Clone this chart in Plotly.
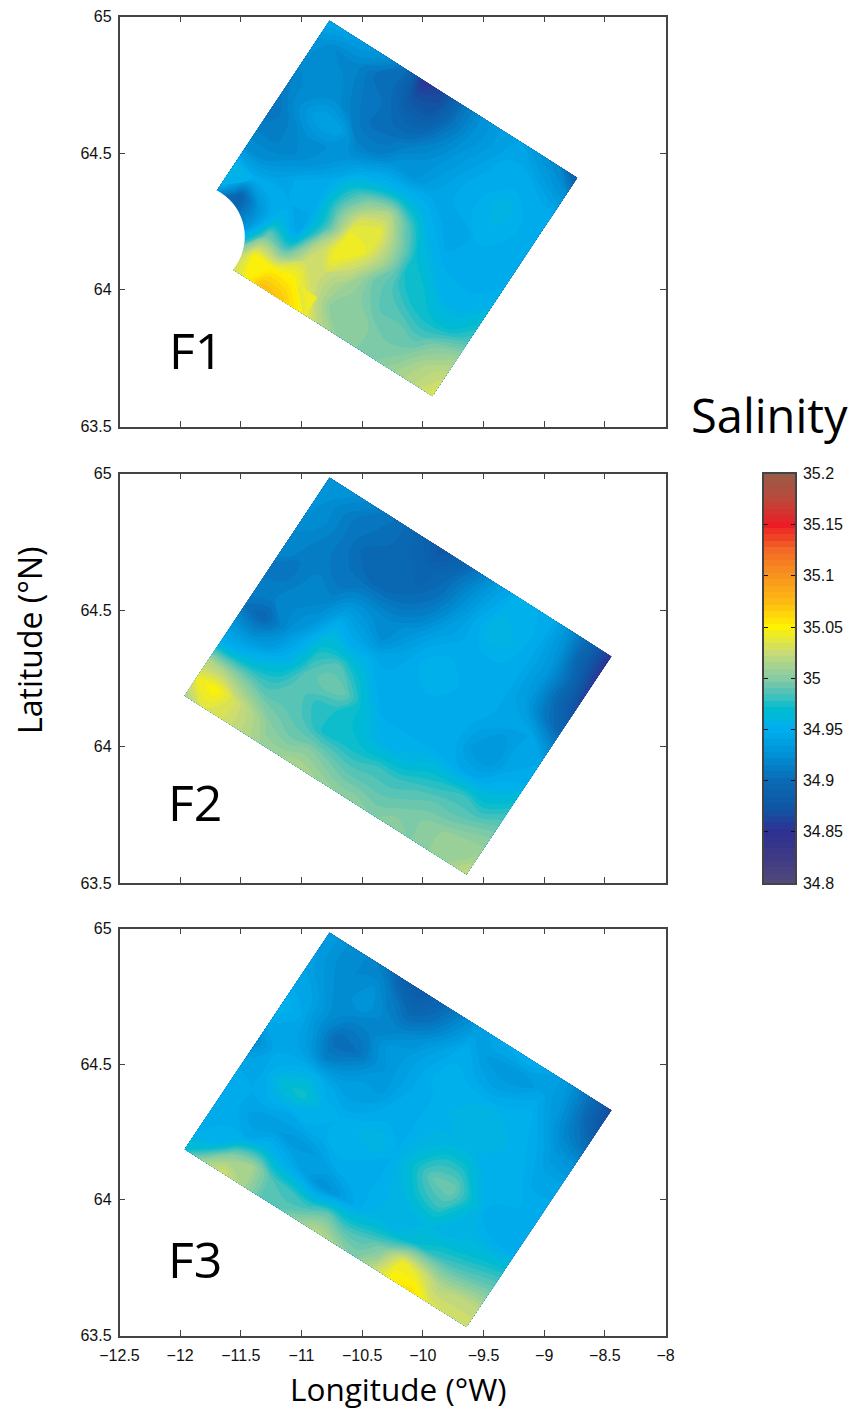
import numpy as np
import plotly.graph_objects as go

W, H = 862, 1410

lon_ticks = [-12.5, -12, -11.5, -11, -10.5, -10, -9.5, -9, -8.5, -8]
lat_ticks = [63.5, 64, 64.5, 65]
cb_ticks = [34.8, 34.85, 34.9, 34.95, 35, 35.05, 35.1, 35.15, 35.2]
cb_labels = ["34.8", "34.85", "34.9", "34.95", "35", "35.05", "35.1", "35.15", "35.2"]

# Salinity, rows run from the north corner to the west corner,
# columns run from the north corner to the east corner.
F1_values = [
 [34.945,34.94,34.935,34.925,34.905,34.85,34.865,34.905,34.925,34.935,34.94,34.93,34.92,34.885],
 [34.93,34.92,34.92,34.905,34.90,34.875,34.875,34.905,34.925,34.935,34.945,34.945,34.935,34.925],
 [34.925,34.925,34.92,34.91,34.905,34.895,34.895,34.915,34.93,34.94,34.95,34.95,34.95,34.945],
 [34.915,34.925,34.925,34.915,34.905,34.905,34.915,34.925,34.935,34.945,34.95,34.96,34.95,34.95],
 [34.91,34.925,34.94,34.94,34.915,34.915,34.93,34.93,34.94,34.945,34.95,34.955,34.95,34.95],
 [34.905,34.915,34.925,34.925,34.93,34.945,34.955,34.96,34.955,34.945,34.94,34.95,34.95,34.95],
 [34.915,34.915,34.92,34.93,34.945,34.975,35.0,35.015,34.985,34.955,34.945,34.95,34.95,34.95],
 [34.925,34.925,34.935,34.95,34.95,34.99,35.03,35.04,35.005,34.97,34.955,34.95,34.95,34.955],
 [34.96,34.95,34.95,34.945,34.945,34.985,35.045,35.04,35.01,34.975,34.97,34.955,34.955,34.97],
 [34.95,34.89,34.93,34.96,34.945,35.015,35.045,35.025,34.995,34.985,34.975,34.97,34.97,34.985],
 [34.89,34.90,34.93,35.0,34.99,35.03,35.025,35.01,35.0,34.99,34.99,34.985,35.0,35.01],
 [34.95,34.96,34.98,35.05,35.05,35.05,35.03,35.005,35.005,35.0,34.995,35.0,35.015,35.025],
 [34.98,35.0,35.02,35.04,35.075,35.07,35.05,35.02,35.005,35.0,35.0,35.01,35.02,35.035],
]
F2_values = [
 [34.93,34.93,34.92,34.91,34.90,34.89,34.875,34.89,34.91,34.935,34.95,34.95,34.945,34.92,34.89,34.85],
 [34.93,34.92,34.91,34.905,34.90,34.895,34.89,34.90,34.92,34.94,34.955,34.955,34.945,34.925,34.89,34.855],
 [34.925,34.92,34.91,34.90,34.90,34.90,34.895,34.905,34.925,34.945,34.96,34.955,34.945,34.93,34.90,34.86],
 [34.92,34.915,34.91,34.905,34.90,34.90,34.905,34.915,34.935,34.945,34.95,34.95,34.945,34.93,34.90,34.87],
 [34.92,34.91,34.915,34.91,34.92,34.92,34.92,34.93,34.945,34.95,34.95,34.95,34.945,34.935,34.91,34.89],
 [34.905,34.91,34.92,34.92,34.94,34.935,34.925,34.94,34.95,34.955,34.95,34.95,34.945,34.945,34.94,34.92],
 [34.915,34.915,34.92,34.93,34.96,34.95,34.95,34.945,34.95,34.95,34.95,34.95,34.94,34.93,34.945,34.945],
 [34.905,34.895,34.92,34.945,34.975,34.985,34.97,34.95,34.95,34.95,34.95,34.95,34.935,34.93,34.945,34.95],
 [34.93,34.925,34.935,34.955,34.985,34.995,34.99,34.965,34.95,34.95,34.95,34.95,34.945,34.945,34.955,34.97],
 [34.95,34.955,34.965,34.975,34.99,34.98,34.975,34.97,34.96,34.955,34.96,34.97,34.975,34.98,34.975,34.985],
 [35.015,35.01,35.0,34.99,34.99,34.985,34.975,34.975,34.975,34.98,34.98,34.985,34.99,34.99,34.995,35.0],
 [35.04,35.05,35.03,35.015,35.0,34.995,35.0,34.995,34.99,34.99,34.99,34.995,35.0,35.005,35.01,35.01],
 [35.015,35.035,35.03,35.02,35.01,35.01,35.015,35.01,35.005,35.005,35.0,35.005,35.0,35.005,35.01,35.025],
]
F3_values = [
 [34.935,34.925,34.92,34.91,34.885,34.88,34.895,34.915,34.935,34.945,34.95,34.95,34.94,34.925,34.90,34.865],
 [34.935,34.925,34.92,34.925,34.91,34.895,34.905,34.925,34.945,34.935,34.93,34.93,34.94,34.93,34.905,34.875],
 [34.94,34.93,34.92,34.93,34.92,34.915,34.925,34.94,34.95,34.945,34.94,34.945,34.95,34.935,34.915,34.90],
 [34.945,34.94,34.925,34.915,34.915,34.93,34.935,34.945,34.955,34.955,34.955,34.955,34.955,34.945,34.93,34.925],
 [34.955,34.945,34.925,34.90,34.905,34.925,34.935,34.945,34.95,34.955,34.96,34.96,34.955,34.95,34.94,34.94],
 [34.945,34.945,34.935,34.915,34.925,34.935,34.935,34.95,34.95,34.955,34.955,34.955,34.955,34.955,34.945,34.945],
 [34.925,34.945,34.95,34.955,34.945,34.94,34.945,34.95,34.95,34.96,34.975,34.975,34.955,34.955,34.95,34.95],
 [34.94,34.945,34.965,34.975,34.955,34.95,34.955,34.96,34.95,34.97,34.99,34.995,34.97,34.945,34.95,34.95],
 [34.95,34.945,34.95,34.945,34.95,34.95,34.955,34.95,34.95,34.96,34.975,34.98,34.96,34.955,34.95,34.95],
 [34.95,34.945,34.935,34.935,34.93,34.935,34.945,34.95,34.95,34.955,34.955,34.96,34.96,34.965,34.97,34.975],
 [34.95,34.95,34.945,34.96,34.95,34.94,34.925,34.935,34.95,34.96,34.96,34.97,34.98,34.985,34.99,34.995],
 [34.95,34.955,35.0,35.01,34.985,34.98,34.975,34.99,34.98,34.985,35.0,35.04,35.03,35.015,35.02,35.02],
 [34.97,35.01,35.03,35.015,34.99,34.99,35.005,35.02,35.01,35.0,35.02,35.05,35.06,35.035,35.03,35.03],
]

# Corners of the sampled boxes (lon, lat)
north = (-10.769, 64.985)
west = (-11.964, 64.186)
east_F1 = (-8.726, 64.41)
east_F23 = (-8.445, 64.33)
# Land cut-out in the F1 box (lon, lat centre; half extents)
cut_lon, cut_lat, cut_rx, cut_ry = -11.896, 64.195, 0.4286, 0.1902

stops = [
 (34.8, "#514a7a"), (34.825, "#3f3a85"), (34.85, "#2e3192"), (34.875, "#0f57a5"),
 (34.9, "#0a6ab5"), (34.925, "#0090d5"), (34.95, "#00aeef"), (34.97, "#00bcd0"),
 (34.985, "#4fc2b8"), (35.0, "#85cba5"), (35.025, "#c8db78"), (35.05, "#fff200"),
 (35.075, "#fdb913"), (35.1, "#f7941d"), (35.125, "#f26a26"), (35.15, "#ed1c24"),
 (35.175, "#b94a3b"), (35.2, "#985b48"),
]
colorscale = [[min(1.0, max(0.0, round((v - 34.8) / 0.4, 5))), c] for v, c in stops]

def xdom(a, b):
    return [a / W, b / W]
def ydom(top, bottom):
    return [1 - bottom / H, 1 - top / H]

fig = go.Figure()
TICK = dict(family="Liberation Sans, Arial, sans-serif", size=16, color="#111")
LINE = "#444"

panels = [
    ("1", F1_values, east_F1, 16.5, 426.5),
    ("2", F2_values, east_F23, 473.5, 883),
    ("3", F3_values, east_F23, 928.5, 1335.5),
]
for k, vals, east, top, bottom in panels:
    z = np.array(vals)
    nv, nu = z.shape
    a = list(range(nu))
    b = list(range(nv))
    U, V = np.meshgrid(np.array(a) / (nu - 1), np.array(b) / (nv - 1))
    X = north[0] + U * (east[0] - north[0]) + V * (west[0] - north[0])
    Y = north[1] + U * (east[1] - north[1]) + V * (west[1] - north[1])
    axis_style = dict(showgrid=False, showline=False, startline=False, endline=False,
                      showticklabels="none", smoothing=0, minorgridcount=0,
                      gridcolor="rgba(0,0,0,0)", linecolor="rgba(0,0,0,0)")
    xa = "x" if k == "1" else "x" + k
    ya = "y" if k == "1" else "y" + k
    fig.add_trace(go.Carpet(carpet="c" + k, a=a, b=b, x=X.tolist(), y=Y.tolist(),
                            aaxis=axis_style, baxis=axis_style, xaxis=xa, yaxis=ya))
    fig.add_trace(go.Contourcarpet(carpet="c" + k, a=a, b=b, z=vals,
                                   colorscale=colorscale, autocolorscale=False,
                                   zauto=False, zmin=34.8, zmax=35.2, showscale=False,
                                   autocontour=False,
                                   contours=dict(start=34.8, end=35.2, size=0.005,
                                                 coloring="fill", showlines=False),
                                   line=dict(width=0), xaxis=xa, yaxis=ya))
    xkey = "xaxis" if k == "1" else "xaxis" + k
    ykey = "yaxis" if k == "1" else "yaxis" + k
    fig.update_layout({
        xkey: dict(domain=xdom(119.5, 665.5), range=[-12.5, -8], anchor=ya, tickvals=lon_ticks,
                   showticklabels=(k == "3"), ticks="inside", ticklen=6, tickcolor=LINE, tickwidth=1,
                   showline=True, linecolor=LINE, linewidth=1.5, mirror="ticks", automargin=False,
                   ticklabelstandoff=5, showgrid=False, zeroline=False, tickfont=TICK),
        ykey: dict(domain=ydom(top, bottom), range=[63.5, 65], anchor=xa, tickvals=lat_ticks,
                   ticktext=["63.5", "64", "64.5", "65"], tickmode="array", automargin=False,
                   ticks="inside", ticklen=6, tickcolor=LINE, tickwidth=1,
                   showline=True, linecolor=LINE, linewidth=1.5, mirror="ticks",
                   ticklabelstandoff=3, showgrid=False, zeroline=False, tickfont=TICK),
    })

# Colour bar as its own small axis so the ticks sit on both sides
cb_levels = [round(34.8 + i * 0.00625, 5) for i in range(65)]
fig.add_trace(go.Heatmap(y=cb_levels, x=[0, 1], z=[[v, v] for v in cb_levels],
                         colorscale=colorscale, autocolorscale=False, zauto=False,
                         zmin=34.8, zmax=35.2, showscale=False,
                         xaxis="x4", yaxis="y4", hoverinfo="skip"))
fig.update_layout(
    xaxis4=dict(domain=xdom(764, 795), range=[-0.5, 1.5], anchor="y4", showticklabels=False,
                ticks="", showline=True, linecolor=LINE, linewidth=1.5, mirror=True, automargin=False,
                showgrid=False, zeroline=False),
    yaxis4=dict(domain=ydom(473.5, 883), range=[34.8, 35.2], anchor="x4", side="right", automargin=False,
                tickmode="array", tickvals=cb_ticks, ticktext=cb_labels, ticks="inside",
                ticklen=4, tickcolor="#111", tickwidth=1, showline=True, linecolor=LINE, linewidth=1.5,
                mirror="ticks", showgrid=False, zeroline=False, tickfont=TICK, ticklabelstandoff=3),
)

fig.add_shape(type="circle", xref="x", yref="y", x0=cut_lon - cut_rx, x1=cut_lon + cut_rx,
              y0=cut_lat - cut_ry, y1=cut_lat + cut_ry, fillcolor="white", line=dict(width=0),
              layer="above")

LABEL = "Open Sans, Noto Sans, sans-serif"
def note(text, px, py, size, angle=0):
    fig.add_annotation(text=text, xref="paper", yref="paper", x=px / W, y=1 - py / H,
                       xanchor="center", yanchor="middle", showarrow=False, textangle=angle,
                       font=dict(family=LABEL, size=size, color="black"))
note("F1", 196, 350, 50)
note("F2", 195, 802, 50)
note("F3", 195, 1259, 50)
note("Salinity", 769, 415, 47)
note("Latitude (°N)", 29, 640, 32, -90)
note("Longitude (°W)", 398, 1388, 31.5)

fig.update_layout(width=W, height=H, margin=dict(l=0, r=0, t=0, b=0),
                  paper_bgcolor="white", plot_bgcolor="white", showlegend=False)
fig.write_html("out.html", config={"displayModeBar": False},
               post_script="document.body.style.margin='0';")
